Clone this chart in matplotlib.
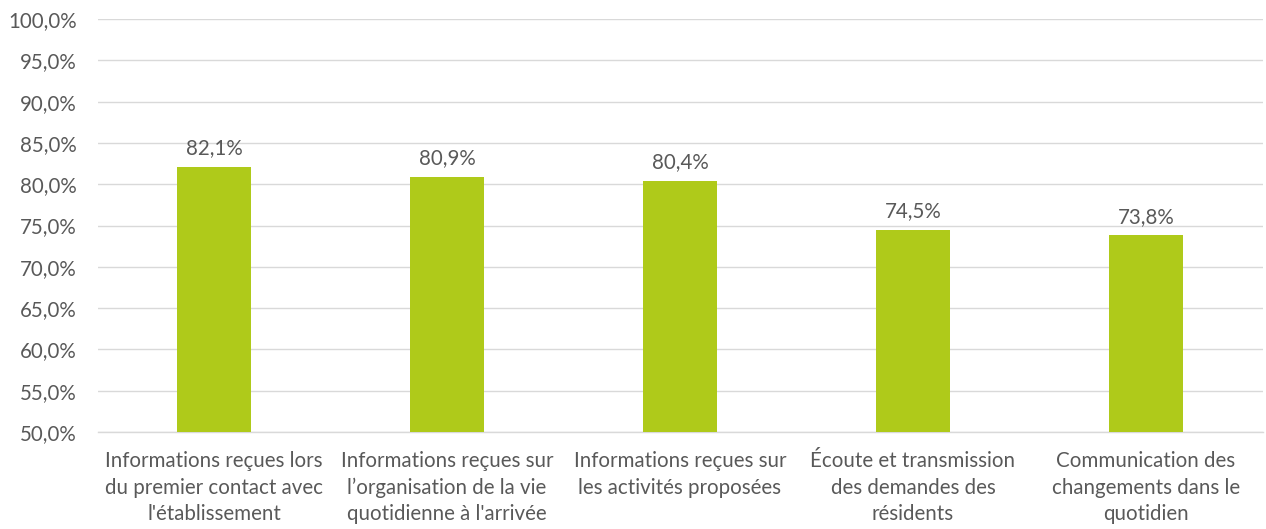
import matplotlib
matplotlib.use("Agg")
import matplotlib.pyplot as plt
from matplotlib.ticker import FuncFormatter, MultipleLocator

categories = [
    "Informations reçues lors\ndu premier contact avec\nl'établissement",
    "Informations reçues sur\nl\u2019organisation de la vie\nquotidienne à l'arrivée",
    "Informations reçues sur\nles activités proposées",
    "Écoute et transmission\ndes demandes des\nrésidents",
    "Communication des\nchangements dans le\nquotidien",
]
values = [82.1, 80.9, 80.4, 74.5, 73.8]

plt.rcParams['font.family'] = ['Lato', 'DejaVu Sans']
text_color = "#595959"
bar_color = "#AFCA1A"
fs = 14.8

fig = plt.figure(figsize=(12.66, 5.29), dpi=100)
ax = fig.add_axes([97.5 / 1266, 1 - 432 / 529, (1262.5 - 97.5) / 1266, (432 - 19) / 529])

x = range(len(categories))
ax.bar(x, values, width=0.318, color=bar_color, zorder=3)
ax.set_ylim(50, 100)
ax.set_xlim(-0.5, len(categories) - 0.5)
ax.yaxis.set_major_locator(MultipleLocator(5))
ax.yaxis.set_major_formatter(FuncFormatter(lambda v, p: f"{v:.1f}%".replace(".", ",")))
ax.grid(axis="y", color="#D9D9D9", linewidth=1, zorder=0)
for s in ["top", "right", "left"]:
    ax.spines[s].set_visible(False)
ax.spines["bottom"].set_color("#D9D9D9")
ax.spines["bottom"].set_linewidth(1)
ax.tick_params(axis="both", length=0, colors=text_color, labelsize=fs)
ax.tick_params(axis="y", pad=15)
ax.tick_params(axis="x", pad=14)
ax.set_xticks(list(x))
ax.set_xticklabels(categories, linespacing=1.38)

for xi, v in zip(x, values):
    ax.annotate(f"{v:.1f}%".replace(".", ","), (xi, v), xytext=(0, 6), textcoords="offset points",
                ha="center", va="bottom", color=text_color, fontsize=fs)

fig.savefig("out.png", dpi=100)
